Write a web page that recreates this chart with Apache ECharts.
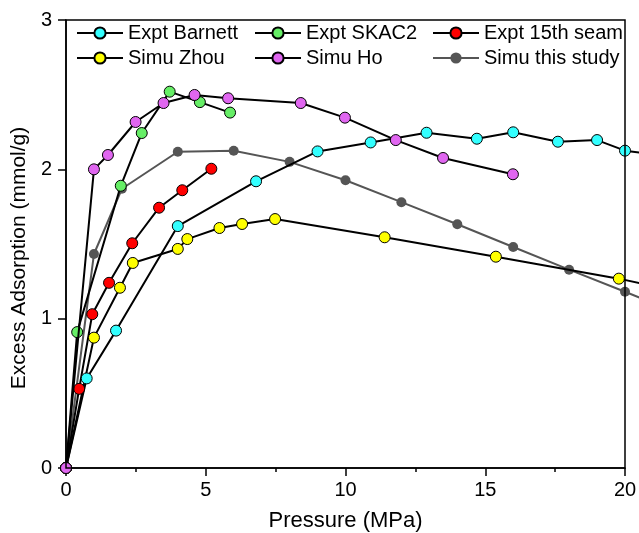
<!DOCTYPE html>
<html>
<head>
<meta charset="utf-8">
<script src="https://cdn.jsdelivr.net/npm/echarts@6/dist/echarts.min.js"></script>
<style>html,body{margin:0;padding:0;background:#fff}#c{width:639px;height:533px}</style>
</head>
<body>
<div id="c"></div>
<script>
// ---- data (Pressure MPa, Excess adsorption mmol/g) ----
const barnettX = [0, 0.74, 1.79, 4.0, 6.8, 9.0, 10.9, 12.9, 14.7, 16.0, 17.6, 19.0, 20.0, 21.0];
const barnettY = [0, 0.60, 0.92, 1.62, 1.92, 2.12, 2.18, 2.245, 2.205, 2.248, 2.185, 2.196, 2.125, 2.10];
const skac2X = [0, 0.40, 1.96, 2.71, 3.71, 4.79, 5.87];
const skac2Y = [0, 0.91, 1.89, 2.243, 2.52, 2.45, 2.38];
const seamX = [0, 0.47, 0.94, 1.54, 2.37, 3.33, 4.16, 5.2];
const seamY = [0, 0.53, 1.03, 1.24, 1.505, 1.743, 1.86, 2.004];
const zhouX = [0, 1.0, 1.93, 2.39, 4.0, 4.34, 5.49, 6.3, 7.48, 11.4, 15.38, 19.78, 22.0];
const zhouY = [0, 0.873, 1.207, 1.373, 1.467, 1.533, 1.607, 1.634, 1.667, 1.545, 1.415, 1.268, 1.18];
const hoX = [0, 1.0, 1.5, 2.49, 3.49, 4.6, 5.8, 8.4, 9.98, 11.8, 13.49, 15.99];
const hoY = [0, 2.0, 2.096, 2.317, 2.444, 2.498, 2.476, 2.444, 2.346, 2.196, 2.076, 1.967];
const studyX = [0, 1, 2, 4, 6, 8, 10, 12, 14, 16, 18, 20, 22];
const studyY = [0, 1.433, 1.87, 2.118, 2.125, 2.05, 1.927, 1.78, 1.632, 1.48, 1.328, 1.18, 1.03];
const xTicks = [0, 5, 10, 15, 20];
const yTicks = [0, 1, 2, 3];

const FONT = 'Liberation Sans, Arial, sans-serif';
const W = 639, GL = 66, GR = 14, GT = 20, GB = 65;
const xMin = xTicks[0], xMax = xTicks[xTicks.length - 1];
// hidden data grid reaches to the right edge of the page, so lines run past x = 20 like the original
const xMaxData = xMin + (xMax - xMin) * (W - GL) / (W - GL - GR);
const zip = (xs, ys) => xs.map((x, i) => [x, ys[i]]);

function mk(name, xs, ys, fill, opts) {
  opts = opts || {};
  return {
    name: name, type: 'line', data: zip(xs, ys), xAxisIndex: 1, yAxisIndex: 1,
    symbol: 'circle', symbolSize: opts.size || 11, z: opts.z || 2,
    lineStyle: { color: opts.line || '#000', width: 2 },
    itemStyle: { color: fill, borderColor: opts.border || '#000', borderWidth: opts.bw === undefined ? 1 : opts.bw },
    emphasis: { disabled: true }, animation: false
  };
}

const series = [
  mk('Simu this study', studyX, studyY, '#555555', { line: '#555555', border: '#555555', bw: 0, size: 10, z: 1 }),
  mk('Expt Barnett', barnettX, barnettY, '#33ffff'),
  mk('Expt SKAC2', skac2X, skac2Y, '#66ee66'),
  mk('Expt 15th seam', seamX, seamY, '#ff0000'),
  mk('Simu Zhou', zhouX, zhouY, '#ffff00'),
  mk('Simu Ho', hoX, hoY, '#e066f0', { z: 3 })
];

function lg(left, names) {
  return {
    left: left, top: 23, padding: 0, orient: 'vertical', itemGap: 5, itemWidth: 46, itemHeight: 14,
    selectedMode: false, data: names,
    textStyle: { fontFamily: FONT, fontSize: 20, color: '#000', lineHeight: 20 }
  };
}

const hiddenAxis = { show: false, type: 'value', axisLine: { show: false }, axisTick: { show: false }, axisLabel: { show: false }, splitLine: { show: false } };

const chart = echarts.init(document.getElementById('c'), null, { renderer: 'canvas' });
chart.setOption({
  animation: false,
  backgroundColor: '#fff',
  grid: [
    { left: GL, right: GR, top: GT, bottom: GB, outerBoundsMode: 'none', containLabel: false, show: true, borderColor: '#000', borderWidth: 1.5, backgroundColor: 'transparent', z: 5 },
    { left: GL, right: 0, top: GT, bottom: GB, outerBoundsMode: 'none', containLabel: false, show: false }
  ],
  legend: [
    lg(76, ['Expt Barnett', 'Simu Zhou']),
    lg(254, ['Expt SKAC2', 'Simu Ho']),
    lg(432, ['Expt 15th seam', 'Simu this study'])
  ],
  xAxis: [{
    type: 'value', gridIndex: 0, min: xMin, max: xMax, interval: 5,
    name: 'Pressure (MPa)', nameLocation: 'middle', nameGap: 42,
    nameTextStyle: { fontFamily: FONT, fontSize: 22, color: '#000' },
    axisLine: { show: true, onZero: false, lineStyle: { color: '#000', width: 1.5 } },
    axisTick: { show: true, inside: false, length: 8, lineStyle: { color: '#000', width: 1.5 } },
    minorTick: { show: true, splitNumber: 2, length: 4, lineStyle: { color: '#000', width: 1.5 } },
    axisLabel: { fontFamily: FONT, fontSize: 20, color: '#000', margin: 12 },
    splitLine: { show: false }
  }, Object.assign({ gridIndex: 1, min: xMin, max: xMaxData }, hiddenAxis)],
  yAxis: [{
    type: 'value', gridIndex: 0, min: yTicks[0], max: yTicks[yTicks.length - 1], interval: 1,
    name: 'Excess Adsorption (mmol/g)', nameLocation: 'middle', nameGap: 35,
    nameTextStyle: { fontFamily: FONT, fontSize: 21, color: '#000', padding: [0, 28, 0, 0] },
    axisLine: { show: true, onZero: false, lineStyle: { color: '#000', width: 1.5 } },
    axisTick: { show: true, inside: false, length: 8, lineStyle: { color: '#000', width: 1.5 } },
    axisLabel: { fontFamily: FONT, fontSize: 20, color: '#000', margin: 14 },
    splitLine: { show: false }
  }, Object.assign({ gridIndex: 1, min: yTicks[0], max: yTicks[yTicks.length - 1] }, hiddenAxis)],
  series: series
});
</script>
</body>
</html>
